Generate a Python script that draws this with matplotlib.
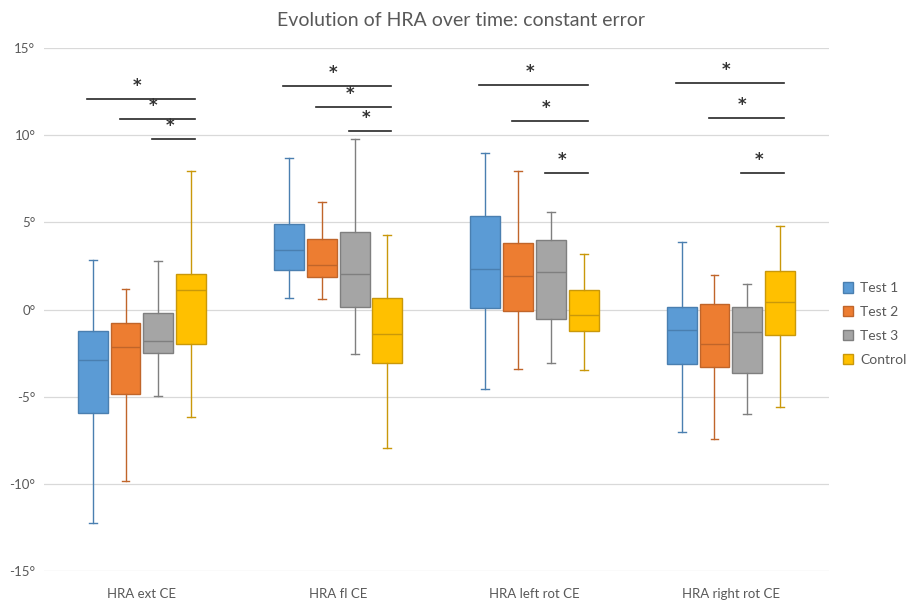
import numpy as np
import matplotlib
matplotlib.use('Agg')
import matplotlib.pyplot as plt
from matplotlib.patches import Patch
from matplotlib.ticker import FuncFormatter

# ----------------------------------------------------------------------------
# Dados
# ----------------------------------------------------------------------------
categories = ['HRA ext CE', 'HRA fl CE', 'HRA left rot CE', 'HRA right rot CE']
series = ['Test 1', 'Test 2', 'Test 3', 'Control']

# por serie: uma lista por categoria
whis_low = {
    'Test 1':  [-12.25, 0.64, -4.58, -6.99],
    'Test 2':  [-9.82, 0.59, -3.43, -7.41],
    'Test 3':  [-4.96, -2.55, -3.09, -5.96],
    'Control': [-6.13, -7.96, -3.49, -5.58],
}
q1 = {
    'Test 1':  [-5.94, 2.25, 0.09, -3.11],
    'Test 2':  [-4.85, 1.85, -0.10, -3.30],
    'Test 3':  [-2.50, 0.14, -0.53, -3.66],
    'Control': [-2.00, -3.09, -1.21, -1.45],
}
median = {
    'Test 1':  [-2.90, 3.41, 2.31, -1.19],
    'Test 2':  [-2.17, 2.54, 1.94, -2.00],
    'Test 3':  [-1.82, 2.05, 2.13, -1.27],
    'Control': [1.10, -1.39, -0.33, 0.45],
}
q3 = {
    'Test 1':  [-1.23, 4.90, 5.38, 0.14],
    'Test 2':  [-0.77, 4.03, 3.80, 0.33],
    'Test 3':  [-0.22, 4.45, 3.97, 0.14],
    'Control': [2.05, 0.64, 1.14, 2.21],
}
whis_high = {
    'Test 1':  [2.84, 8.71, 9.00, 3.85],
    'Test 2':  [1.19, 6.17, 7.95, 2.00],
    'Test 3':  [2.80, 9.80, 5.61, 1.44],
    'Control': [7.95, 4.27, 3.17, 4.77],
}

# comparacoes significativas: (categoria, serie inicial, serie final, nivel)
significance = [
    (0, 0, 3, 12.08), (0, 1, 3, 10.95), (0, 2, 3, 9.80),
    (1, 0, 3, 12.82), (1, 1, 3, 11.64), (1, 2, 3, 10.26),
    (2, 0, 3, 12.90), (2, 1, 3, 10.83), (2, 2, 3, 7.83),
    (3, 0, 3, 13.01), (3, 1, 3, 10.97), (3, 2, 3, 7.83),
]

yticks = [-15, -10, -5, 0, 5, 10, 15]

# cores estilo Office
FILL = {'Test 1': '#5B9BD5', 'Test 2': '#ED7D31', 'Test 3': '#A5A5A5', 'Control': '#FFC000'}
EDGE = {'Test 1': '#4A7FB0', 'Test 2': '#C0652A', 'Test 3': '#7F7F7F', 'Control': '#C9980A'}

# ----------------------------------------------------------------------------
# Plot
# ----------------------------------------------------------------------------
plt.rcParams['font.family'] = ['Lato', 'DejaVu Sans']

fig = plt.figure(figsize=(9.12, 6.0), dpi=100)
ax = fig.add_axes([0.048, 0.048, 0.861, 0.872])

step = 0.167
width = 0.152
offsets = (np.arange(len(series)) - 1.5) * step
base = np.arange(len(categories))

for k, s in enumerate(series):
    stats = []
    for i in range(len(categories)):
        stats.append({'med': median[s][i], 'q1': q1[s][i], 'q3': q3[s][i],
                      'whislo': whis_low[s][i], 'whishi': whis_high[s][i],
                      'fliers': []})
    ax.bxp(stats, positions=base + offsets[k], widths=width, patch_artist=True,
           showfliers=False, capwidths=0.04,
           boxprops=dict(facecolor=FILL[s], edgecolor=EDGE[s], linewidth=1.0),
           medianprops=dict(color=EDGE[s], linewidth=1.0),
           whiskerprops=dict(color=EDGE[s], linewidth=1.0),
           capprops=dict(color=EDGE[s], linewidth=1.0))

# barras de significancia
for cat, a, b, level in significance:
    x0 = base[cat] + offsets[a] - 0.03
    x1 = base[cat] + offsets[b] + 0.02
    ax.plot([x0, x1], [level, level], color='#262626', linewidth=1.2)
    ax.text((x0 + x1) / 2 - 0.02, level + 0.75, '*', ha='center', va='center',
            fontsize=12, fontweight='bold', color='#333333', family='DejaVu Sans')

# eixos
ax.set_xlim(-0.5, len(categories) - 0.5)
ax.set_ylim(-15, 15)
ax.set_yticks(yticks)
ax.yaxis.set_major_formatter(FuncFormatter(lambda v, p: '{:d}°'.format(int(v))))
ax.set_xticks(base)
ax.set_xticklabels(categories)
ax.tick_params(axis='both', length=0, colors='#595959', labelsize=9.5)
ax.tick_params(axis='x', pad=12)
ax.tick_params(axis='y', pad=6)
ax.grid(True, axis='y', color='#D9D9D9', linewidth=0.9)
ax.set_axisbelow(True)
for sp in ax.spines.values():
    sp.set_visible(False)

fig.text(0.505, 0.965, 'Evolution of HRA over time: constant error', ha='center',
         va='center', fontsize=14, color='#595959')

handles = [Patch(facecolor=FILL[s], edgecolor=EDGE[s]) for s in series]
fig.legend(handles, series, loc='center left', bbox_to_anchor=(0.918, 0.46),
           frameon=False, fontsize=10, labelcolor='#595959', handlelength=0.75,
           handleheight=0.75, handletextpad=0.5, labelspacing=0.85, borderaxespad=0)

fig.savefig('out.png', dpi=100)
